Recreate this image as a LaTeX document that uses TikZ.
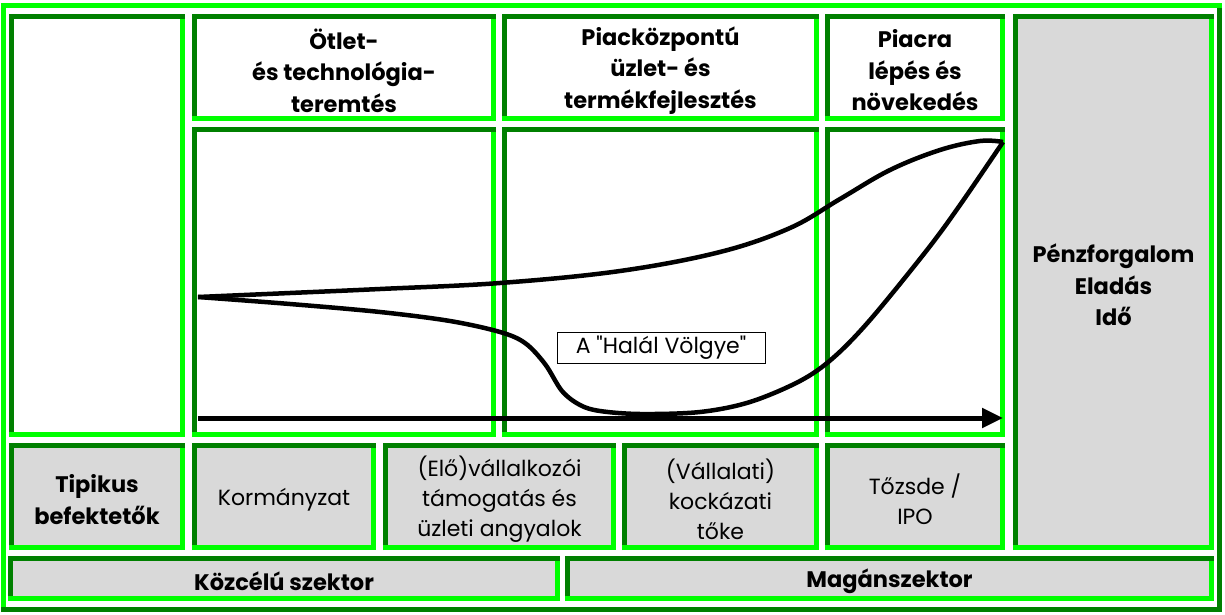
\documentclass[tikz,border=0pt]{standalone}
\usepackage{fontspec}
\setmainfont{Poppins}
\newfontfamily\qfont{Poppins}[Ligatures=TeXOff]
\usetikzlibrary{arrows.meta}
\definecolor{dkg}{HTML}{008000}
\definecolor{brg}{HTML}{00FF00}
\definecolor{gry}{HTML}{D9D9D9}
\tikzset{
  gb/.style={rectangle, inner sep=0pt, outer sep=0pt},
  tx/.style={inner sep=0pt, align=center, yshift=-3pt},
  wfill/.style={fill=white},
  gfill/.style={fill=gry},
  hd/.style={font=\fontsize{22.5}{31.5}\selectfont\bfseries},
  bt/.style={font=\fontsize{22}{30}\selectfont},
  dkline/.style={draw=dkg, line width=5pt},
  brline/.style={draw=brg, line width=5pt},
  curve/.style={draw=black, line width=4.5pt, line join=round},
  axisline/.style={draw=black, line width=5pt, -{Triangle[length=21pt,width=19pt]}},
  lbl/.style={draw=black, line width=0.8pt, fill=white, inner sep=1.5pt,
    font=\qfont\fontsize{22}{25}\selectfont}
}
\newcommand\gbox[8]{%
  \pgfmathsetmacro\bw{#4-#2}\pgfmathsetmacro\bh{#5-#3}%
  \node[gb,#6,minimum width=\bw pt,minimum height=\bh pt] (#1) at ({(#2+#4)/2},{(#3+#5)/2}) {};
  \draw[dkline] ([xshift=2.5pt]#1.south west) -- ([xshift=2.5pt,yshift=-2.5pt]#1.north west) -- ([yshift=-2.5pt]#1.north east);
  \draw[brline] ([yshift=2.5pt]#1.south west) -- ([xshift=-2.5pt,yshift=2.5pt]#1.south east) -- ([xshift=-2.5pt,yshift=-5pt]#1.north east);
  \node[tx,#7] (#1t) at (#1.center) {#8};
}
\begin{document}
\begin{tikzpicture}[x=1pt,y=-1pt]
\useasboundingbox[fill=white] (0,0) rectangle (1225,615);
% outer frame
\draw[brline] (3.5,612) -- (3.5,5.5) -- (1222,5.5);
\draw[dkline] (1219.5,8) -- (1219.5,609.5) -- (1,609.5);
% top row
\gbox{lft}{9}{14}{185}{437}{wfill}{}{}
\gbox{h1}{192}{14}{496}{121}{wfill}{hd}{Ötlet-\\és technológia-\\teremtés}
\gbox{h2}{502}{14}{819}{121}{wfill}{hd}{Piacközpontú\\üzlet- és\\termékfejlesztés}
\gbox{h3}{825}{14}{1005}{121}{wfill}{hd}{Piacra\\lépés és\\növekedés}
\gbox{m1}{192}{127}{496}{437}{wfill}{}{}
\gbox{m2}{502}{127}{819}{437}{wfill}{}{}
\gbox{m3}{825}{127}{1005}{437}{wfill}{}{}
\gbox{rgt}{1013}{14}{1214}{550}{gfill}{hd}{Pénzforgalom\\Eladás\\Idő}
% bottom row
\gbox{b1}{9}{443}{185}{550}{gfill}{hd}{Tipikus\\befektetők}
\gbox{b2}{192}{443}{376}{550}{gfill}{bt}{Kormányzat}
\gbox{b3}{383}{443}{616}{550}{gfill}{bt}{(Elő)vállalkozói\\támogatás és\\üzleti angyalok}
\gbox{b4}{622}{443}{819}{550}{gfill}{bt}{(Vállalati)\\kockázati\\tőke}
\gbox{b5}{825}{443}{1005}{550}{gfill}{bt}{Tőzsde /\\IPO}
\gbox{s1}{8}{556}{560}{601}{gfill}{hd}{Közcélú szektor}
\gbox{s2}{565}{556}{1214}{601}{gfill}{hd}{Magánszektor}
% curves
\coordinate (cs) at (198,297);
\coordinate (ct) at (1003,142);
\draw[curve] plot[smooth, tension=0.6] coordinates {(198,297) (290,293) (380,289) (500,283) (620,271) (720,252) (790,228) (840,199) (890,170) (940,150) (980,141) (1003,142)};
\draw[curve] plot[smooth, tension=0.55] coordinates {(1003,142) (960,205) (927,250) (870,320) (833,358) (800,381) (750,402) (700,412) (640,414) (600,411) (580,405) (562,391) (545,364) (525,343) (500,332) (450,321) (380,312) (290,304) (198,297)};
% axis
\coordinate (as) at (198,418);
\coordinate (ae) at (1003,418);
\draw[axisline] (as) -- (ae);
% label
\node[lbl, minimum width=208pt, minimum height=31pt] (hv) at (661,347.5) {A "Halál Völgye"};
\end{tikzpicture}
\end{document}
